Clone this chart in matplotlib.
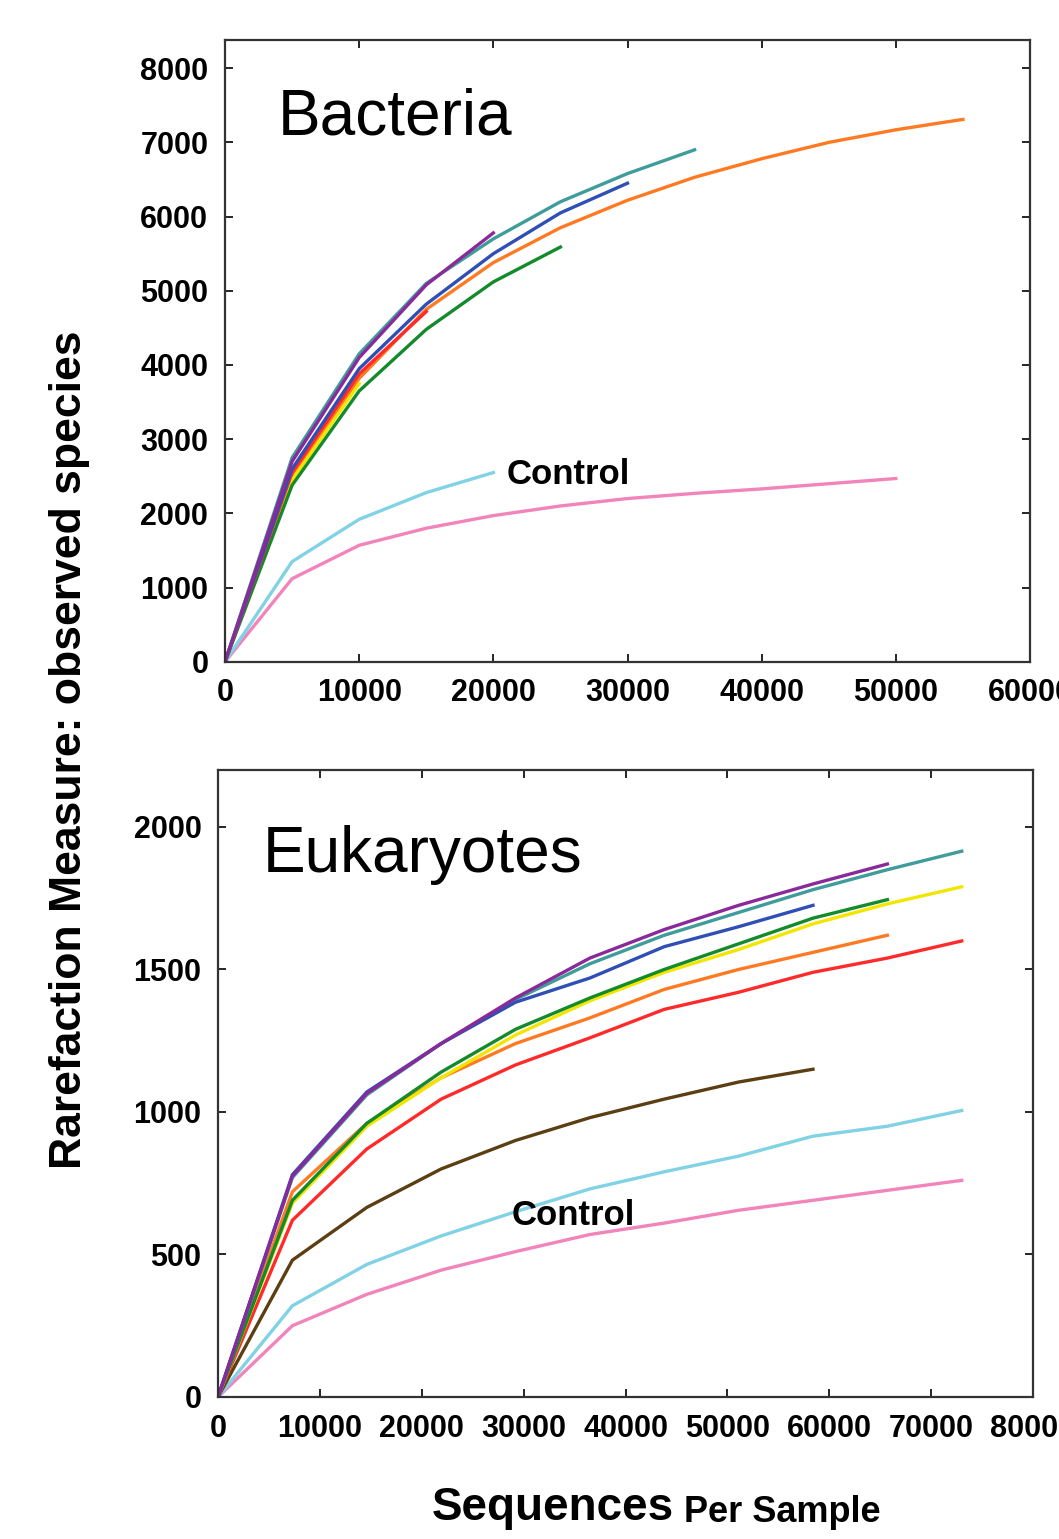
import numpy as np
import matplotlib
matplotlib.use("Agg")
from matplotlib import pyplot as plt

plt.rcParams['font.family'] = ['Liberation Sans', 'DejaVu Sans']

# Bacteria rarefaction (x every 5000 sequences)
bac_x = [0, 5000, 10000, 15000, 20000, 25000, 30000, 35000, 40000, 45000, 50000, 55000]
bac_teal = [0, 2750, 4150, 5100, 5700, 6200, 6580, 6900]
bac_purple = [0, 2700, 4100, 5080, 5780]
bac_blue = [0, 2600, 3950, 4820, 5500, 6050, 6450]
bac_red = [0, 2550, 3880, 4720]
bac_orange = [0, 2500, 3820, 4750, 5380, 5850, 6220, 6530, 6780, 7000, 7170, 7310]
bac_yellow = [0, 2450, 3750]
bac_green = [0, 2380, 3650, 4480, 5120, 5590]
bac_cyan = [0, 1350, 1920, 2280, 2550]
bac_pink = [0, 1120, 1570, 1800, 1970, 2100, 2200, 2270, 2330, 2400, 2470]

# Eukaryotes rarefaction (x every 7300 sequences)
euk_x = [0, 7300, 14600, 21900, 29200, 36500, 43800, 51100, 58400, 65700, 73000]
euk_teal = [0, 770, 1060, 1240, 1395, 1520, 1620, 1700, 1780, 1850, 1915]
euk_purple = [0, 775, 1065, 1240, 1400, 1540, 1640, 1725, 1800, 1870]
euk_blue = [0, 780, 1070, 1240, 1385, 1470, 1580, 1650, 1725]
euk_green = [0, 690, 960, 1140, 1290, 1400, 1500, 1590, 1680, 1745]
euk_yellow = [0, 680, 950, 1120, 1270, 1390, 1490, 1570, 1660, 1730, 1790]
euk_orange = [0, 720, 960, 1120, 1240, 1330, 1430, 1500, 1560, 1620]
euk_red = [0, 620, 870, 1045, 1165, 1260, 1360, 1420, 1490, 1540, 1600]
euk_brown = [0, 480, 665, 800, 900, 980, 1045, 1105, 1150]
euk_cyan = [0, 320, 465, 565, 650, 730, 790, 845, 915, 950, 1005]
euk_pink = [0, 250, 360, 445, 510, 570, 610, 655, 690, 725, 760]

colors = {
    'teal': '#3f9c9a', 'purple': '#8a2a9a', 'blue': '#2f4fb5',
    'red': '#ff2a2a', 'orange': '#ff7a22', 'yellow': '#f2e600',
    'green': '#138a2c', 'cyan': '#80d2e4', 'pink': '#f184ba',
    'brown': '#5b3f12',
}

lw = 2.4
tick_fs = 22

fig = plt.figure(figsize=(10.59, 15.39), dpi=100)

# top panel
ax1 = fig.add_axes([0.2125, 0.570, 0.7601, 0.404])
bac = [('pink', bac_pink), ('cyan', bac_cyan), ('orange', bac_orange),
       ('yellow', bac_yellow), ('green', bac_green), ('red', bac_red),
       ('blue', bac_blue), ('teal', bac_teal), ('purple', bac_purple)]
for c, ys in bac:
    ax1.plot(bac_x[:len(ys)], ys, color=colors[c], lw=lw)
ax1.set_xlim(0, 60000)
ax1.set_ylim(0, 8380)
ax1.set_xticks(np.arange(0, 60001, 10000))
ax1.set_yticks(np.arange(0, 8001, 1000))
ax1.text(0.065, 0.875, 'Bacteria', transform=ax1.transAxes, fontsize=46,
         ha='left', va='center')
ax1.text(20970, 2530, 'Control', fontsize=25, fontweight='bold',
         ha='left', va='center')

# bottom panel
ax2 = fig.add_axes([0.2059, 0.0923, 0.7696, 0.4074])
euk = [('pink', euk_pink), ('cyan', euk_cyan), ('brown', euk_brown),
       ('red', euk_red), ('orange', euk_orange), ('yellow', euk_yellow),
       ('green', euk_green), ('teal', euk_teal), ('blue', euk_blue),
       ('purple', euk_purple)]
for c, ys in euk:
    ax2.plot(euk_x[:len(ys)], ys, color=colors[c], lw=lw)
ax2.set_xlim(0, 80000)
ax2.set_ylim(0, 2200)
ax2.set_xticks(np.arange(0, 80001, 10000))
ax2.set_yticks(np.arange(0, 2001, 500))
ax2.text(0.055, 0.865, 'Eukaryotes', transform=ax2.transAxes, fontsize=46,
         ha='left', va='center')
ax2.text(28850, 635, 'Control', fontsize=25, fontweight='bold',
         ha='left', va='center')

for ax in (ax1, ax2):
    ax.tick_params(direction='in', length=6, width=1.2, top=True, right=True,
                   labelsize=tick_fs, pad=12)
    for lab in ax.get_xticklabels() + ax.get_yticklabels():
        lab.set_fontweight('bold')
    for sp in ax.spines.values():
        sp.set_linewidth(1.6)
        sp.set_color('#333333')

fig.text(0.066, 0.513, 'Rarefaction Measure: observed species', rotation=90,
         fontsize=32, fontweight='bold', ha='center', va='center')
fig.text(0.408, 0.006, 'Sequences', fontsize=33, fontweight='bold',
         ha='left', va='bottom')
fig.text(0.646, 0.006, 'Per Sample', fontsize=26, fontweight='bold',
         ha='left', va='bottom')

fig.savefig('out.png', dpi=100)
